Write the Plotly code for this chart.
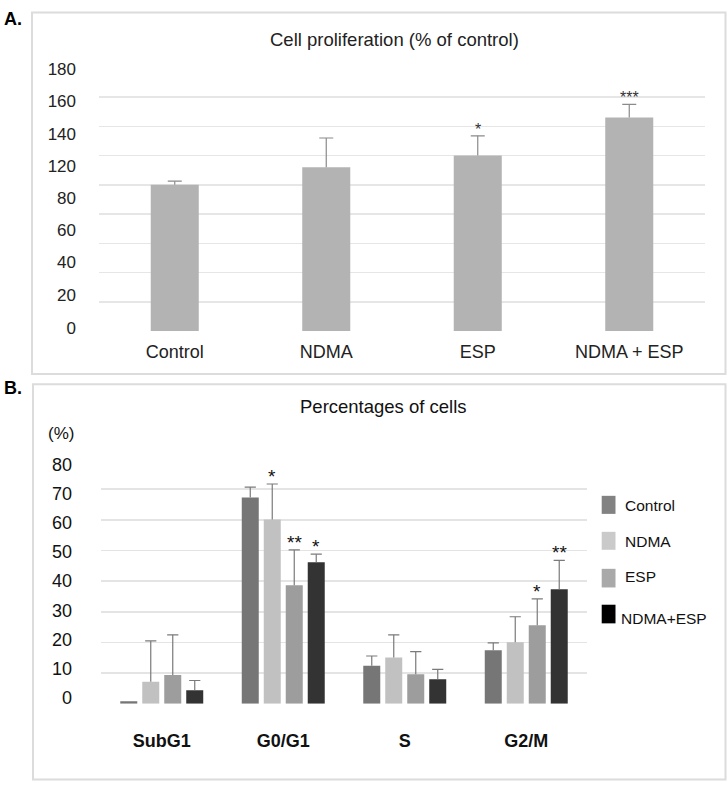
import plotly.graph_objects as go

W, H = 728, 788
FONT = "Liberation Sans, Arial, sans-serif"

# ---------------- Panel A data ----------------
a_categories = ["Control", "NDMA", "ESP", "NDMA + ESP"]
a_values = [100, 112, 120, 146]
a_errors = [2.5, 20, 13.5, 9]
a_marks = ["", "", "*", "***"]
a_tick_labels = ["0", "20", "40", "60", "80", "120", "140", "160", "180"]
a_tick_positions = [2, 24.5, 47, 69, 91, 113, 135, 157, 179]
a_grid_values = [0, 20, 40, 60, 80, 100, 120, 140, 160, 180]

# ---------------- Panel B data ----------------
b_phases = ["SubG1", "G0/G1", "S", "G2/M"]
b_groups = ["Control", "NDMA", "ESP", "NDMA+ESP"]
b_control = [0.8, 67.3, 12.4, 17.5]
b_control_err = [None, 3.4, 3.2, 2.4]
b_ndma = [7.2, 60.1, 15.1, 20.1]
b_ndma_err = [13.3, 11.6, 7.4, 8.3]
b_esp = [9.4, 38.7, 9.6, 25.6]
b_esp_err = [13.1, 11.5, 7.4, 8.6]
b_combo = [4.4, 46.2, 8.0, 37.4]
b_combo_err = [3.2, 2.6, 3.2, 9.4]
b_control_marks = ["", "", "", ""]
b_ndma_marks = ["", "*", "", ""]
b_esp_marks = ["", "**", "", "*"]
b_combo_marks = ["", "*", "", "**"]
b_tick_labels = ["0", "10", "20", "30", "40", "50", "60", "70", "80"]
b_tick_positions = [2, 11.5, 21, 30.5, 40, 49.5, 59, 68.5, 78]
b_grid_values = [0, 10, 20, 30, 40, 50, 60, 70, 80]

b_series = [
    ("Control", b_control, b_control_err, b_control_marks, "#767676", "#828282"),
    ("NDMA", b_ndma, b_ndma_err, b_ndma_marks, "#c1c1c1", "#cacaca"),
    ("ESP", b_esp, b_esp_err, b_esp_marks, "#9d9d9d", "#a9a9a9"),
    ("NDMA+ESP", b_combo, b_combo_err, b_combo_marks, "#333333", "#000000"),
]


def px(x):
    return x / W


def py(y):
    return 1 - y / H


def cap_tops(vals, errs):
    return [v + e if e is not None else None for v, e in zip(vals, errs)]


fig = go.Figure()

# Panel A bars (error stems) + caps
fig.add_trace(go.Bar(
    x=a_categories, y=a_values, xaxis="x", yaxis="y", offsetgroup="A",
    marker=dict(color="#b3b3b3", line=dict(width=0)),
    width=0.317,
    error_y=dict(type="data", symmetric=False, array=a_errors,
                 arrayminus=[0] * len(a_errors), color="#8a8a8a",
                 thickness=1.2, width=0),
    showlegend=False, hoverinfo="skip",
))
fig.add_trace(go.Scatter(
    x=a_categories, y=cap_tops(a_values, a_errors), xaxis="x", yaxis="y",
    mode="markers", offsetgroup="A",
    marker=dict(symbol="line-ew", size=10, color="#8a8a8a",
                line=dict(width=1.2, color="#8a8a8a")),
    showlegend=False, hoverinfo="skip",
))

# Panel B bars
for name, vals, errs, marks, col, lcol in b_series:
    fig.add_trace(go.Bar(
        x=b_phases, y=vals, name=name, xaxis="x2", yaxis="y2", offsetgroup=name,
        marker=dict(color=col, line=dict(width=0)),
        error_y=dict(type="data", symmetric=False, array=[e or 0 for e in errs],
                     arrayminus=[0] * len(errs), color="#7a7a7a",
                     thickness=1.2, width=0),
        showlegend=False, hoverinfo="skip",
    ))
for name, vals, errs, marks, col, lcol in b_series:
    fig.add_trace(go.Scatter(
        x=b_phases, y=cap_tops(vals, errs), xaxis="x2", yaxis="y2",
        mode="markers", offsetgroup=name,
        marker=dict(symbol="line-ew", size=8, color="#7a7a7a",
                    line=dict(width=1.2, color="#7a7a7a")),
        showlegend=False, hoverinfo="skip",
    ))

annotations = []
shapes = []

# Significance marks, panel A
for c, v, e, m in zip(a_categories, a_values, a_errors, a_marks):
    if m:
        annotations.append(dict(x=c, y=v + e, xref="x", yref="y", text=m,
                                showarrow=False, yanchor="bottom", yshift=-4,
                                font=dict(family=FONT, size=16, color="#333333")))

# Significance marks, panel B
shift = [-33, -11, 11, 33]
for gi, (name, vals, errs, marks, col, lcol) in enumerate(b_series):
    for p, v, e, m in zip(b_phases, vals, errs, marks):
        if m:
            annotations.append(dict(x=p, y=v + (e or 0), xref="x2", yref="y2", text=m,
                                    showarrow=False, yanchor="bottom", yshift=-5,
                                    xshift=shift[gi],
                                    font=dict(family=FONT, size=19, color="#111111")))

# Titles and panel letters
annotations += [
    dict(x=px(2), y=py(11), xref="paper", yref="paper", text="<b>A.</b>",
         showarrow=False, xanchor="left", yanchor="middle",
         font=dict(family=FONT, size=18, color="#000")),
    dict(x=px(2), y=py(387), xref="paper", yref="paper", text="<b>B.</b>",
         showarrow=False, xanchor="left", yanchor="middle",
         font=dict(family=FONT, size=18, color="#000")),
    dict(x=px(395), y=py(32), xref="paper", yref="paper",
         text="Cell proliferation (% of control)", showarrow=False,
         xanchor="center", yanchor="middle",
         font=dict(family=FONT, size=18.5, color="#222")),
    dict(x=px(383), y=py(406), xref="paper", yref="paper",
         text="Percentages of cells", showarrow=False,
         xanchor="center", yanchor="middle",
         font=dict(family=FONT, size=18.5, color="#111")),
    dict(x=px(61), y=py(434), xref="paper", yref="paper", text="(%)",
         showarrow=False, xanchor="center", yanchor="middle",
         font=dict(family=FONT, size=17, color="#111")),
]

# Legend for panel B (swatches + labels)
leg_y = [(497.3, 515.7, 506.7), (534, 552.3, 544), (571.7, 590.7, 580), (608.3, 627.3, 622.7)]
for (name, vals, errs, marks, col, lcol), (y0, y1, yt) in zip(b_series, leg_y):
    shapes.append(dict(type="rect", xref="paper", yref="paper",
                       x0=px(601.7), x1=px(615.5), y0=py(y1), y1=py(y0),
                       fillcolor=lcol, line=dict(width=0)))
    xt = 619 if name == "NDMA+ESP" else 622.7
    annotations.append(dict(x=px(xt), y=py(yt), xref="paper", yref="paper",
                            text=name, showarrow=False, xanchor="left",
                            yanchor="middle",
                            font=dict(family=FONT, size=15.5, color="#111")))

# Panel frames
shapes += [
    dict(type="rect", xref="paper", yref="paper", x0=px(32), x1=px(725.5),
         y0=py(373), y1=py(4.5), line=dict(color="#dcdcdc", width=2)),
    dict(type="rect", xref="paper", yref="paper", x0=px(33), x1=px(725.5),
         y0=py(786.5), y1=py(383.5), line=dict(color="#dcdcdc", width=2)),
]

fig.update_layout(
    width=W, height=H, autosize=False,
    margin=dict(l=0, r=0, t=0, b=0),
    paper_bgcolor="white", plot_bgcolor="white",
    barmode="group", bargap=0.276, bargroupgap=0.227,
    scattermode="group", scattergap=0.276,
    font=dict(family=FONT, color="#222"),
    xaxis=dict(domain=[px(99), px(705)], anchor="y", showgrid=False,
               zeroline=False, showline=False, ticks="",
               tickfont=dict(family=FONT, size=18, color="#222"),
               ticklabelstandoff=8, fixedrange=True),
    yaxis=dict(domain=[py(329.3), py(61)], anchor="x", range=[0, 180],
               tickmode="array", tickvals=a_tick_positions, ticktext=a_tick_labels,
               showgrid=False, zeroline=False, showline=False, ticks="",
               tickfont=dict(family=FONT, size=17, color="#222"),
               ticklabelstandoff=22,
               minor=dict(tickmode="array", tickvals=a_grid_values, showgrid=True,
                          gridcolor="#e6e6e6", gridwidth=1.5, ticks=""),
               fixedrange=True),
    xaxis2=dict(domain=[px(101), px(587)], anchor="y2", showgrid=False,
                zeroline=False, showline=False, ticks="",
                tickfont=dict(family=FONT, size=18, color="#111", weight="bold"),
                ticklabelstandoff=24, fixedrange=True),
    yaxis2=dict(domain=[py(709.3), py(459.3)], anchor="x2", range=[0, 80],
                tickmode="array", tickvals=b_tick_positions, ticktext=b_tick_labels,
                showgrid=False, zeroline=False, showline=False, ticks="",
                tickfont=dict(family=FONT, size=18, color="#111"),
                ticklabelstandoff=28,
                minor=dict(tickmode="array", tickvals=b_grid_values, showgrid=True,
                           gridcolor="#e4e4e4", gridwidth=1.5, ticks=""),
                fixedrange=True),
    annotations=annotations,
    shapes=shapes,
    showlegend=False,
)

fig.write_html(
    "out.html",
    config={"displayModeBar": False, "staticPlot": True},
    post_script="document.body.style.margin='0';document.body.style.overflow='hidden';",
)
